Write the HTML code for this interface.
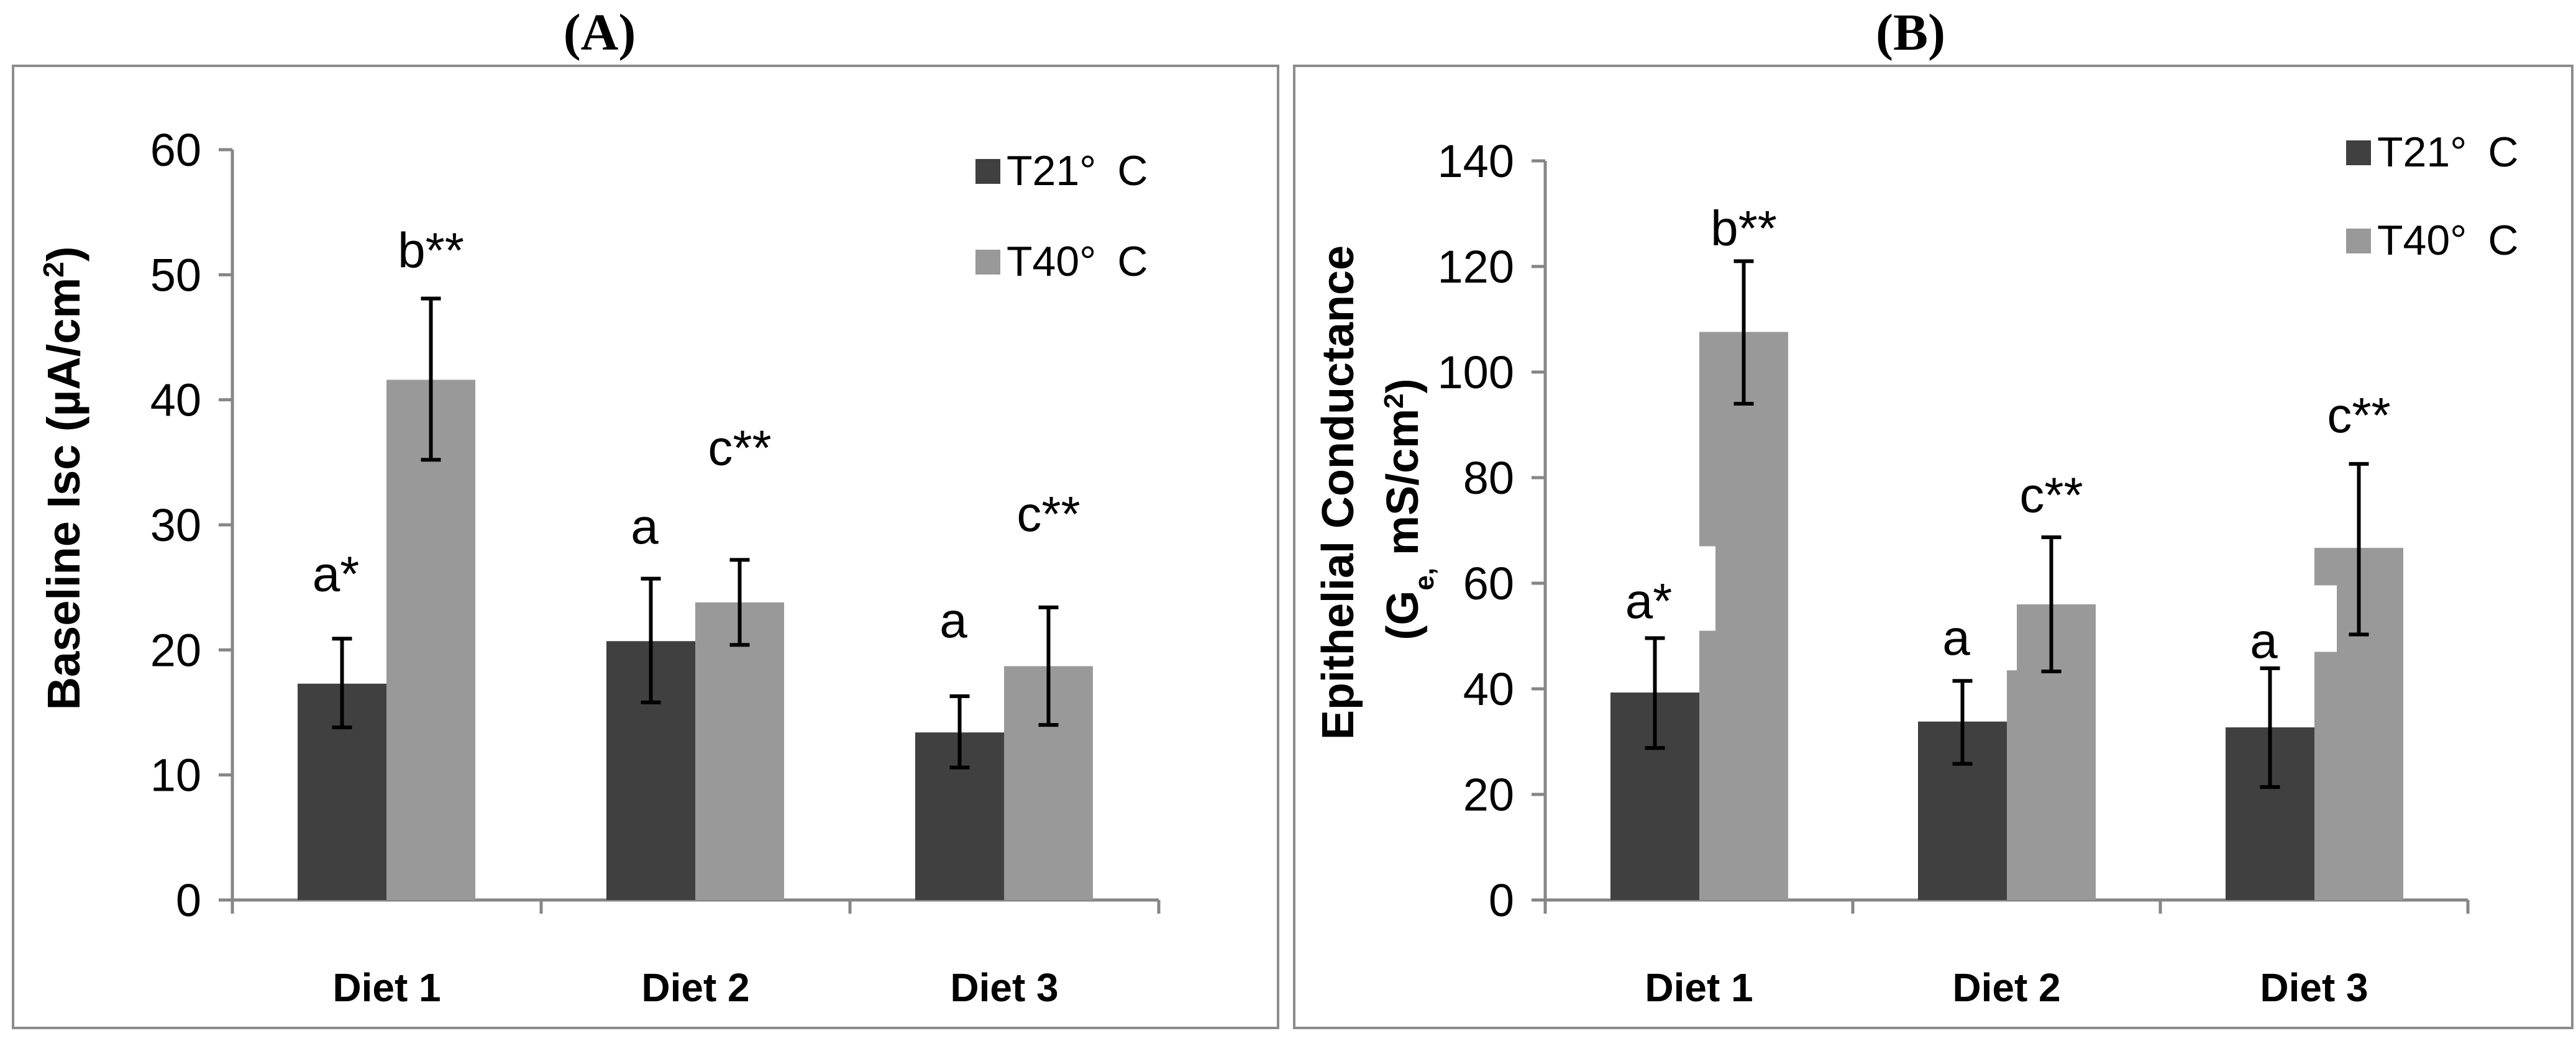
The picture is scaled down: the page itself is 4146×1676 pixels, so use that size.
<!DOCTYPE html>
<html><head><meta charset="utf-8"><style>
html,body{margin:0;padding:0;background:#fff;}
svg{display:block;}
text{font-family:"Liberation Sans",sans-serif;}
text.serif{font-family:"Liberation Serif",serif;}
</style></head><body>
<svg id="chart" width="4146" height="1676" xmlns="http://www.w3.org/2000/svg"></svg>
<script>
const categories = ["Diet 1","Diet 2","Diet 3"];
const seriesNames = ["T21° C","T40° C"];
const aT21 = [17.3, 20.7, 13.4];
const aT40 = [41.6, 23.8, 18.7];
const aT21Lo = [13.8, 15.8, 10.6];
const aT21Hi = [20.9, 25.7, 16.3];
const aT40Lo = [35.2, 20.4, 14.0];
const aT40Hi = [48.1, 27.2, 23.4];
const aT21Label = ["a*","a","a"];
const aT40Label = ["b**","c**","c**"];
const aT21LabelY = [24.7, 28.5, 21.0];
const aT40LabelY = [50.6, 34.8, 29.5];
const aTicks = [0,10,20,30,40,50,60];
const bT21 = [39.3, 33.8, 32.7];
const bT40 = [107.6, 56.0, 66.7];
const bT21Lo = [28.8, 25.8, 21.4];
const bT21Hi = [49.6, 41.5, 43.9];
const bT40Lo = [94.0, 43.3, 50.3];
const bT40Hi = [121.0, 68.7, 82.6];
const bT21Label = ["a*","a","a"];
const bT40Label = ["b**","c**","c**"];
const bT21LabelY = [53.4, 46.5, 45.9];
const bT40LabelY = [124, 73.5, 88.6];
const bTicks = [0,20,40,60,80,100,120,140];
const bNotchLo = [51, 43.5, 47];
const bNotchHi = [67, 56, 59.6];

const NS = "http://www.w3.org/2000/svg";
const svg = document.getElementById("chart");
function mk(tag, attrs, parent){
  const e = document.createElementNS(NS, tag);
  for (const k in attrs) e.setAttribute(k, attrs[k]);
  (parent||svg).appendChild(e);
  return e;
}

function panel(cfg){
  const g = mk("g", {});
  
  
  const box = mk("rect", {x:cfg.boxX, y:106, width:cfg.boxW, height:1549, fill:"none", stroke:"#8c8c8c", "stroke-width":4}, g);
  
  
  const t = mk("text", {x:cfg.titleX, y:80, "text-anchor":"middle", "font-size":84, "font-weight":"bold", "class":"serif"}, g);
  t.textContent = cfg.title;
  
  
  const y0 = 1449, yTop = cfg.yTopPx, maxV = cfg.max;
  const yS = v => y0 - (v/maxV)*(y0-yTop);
  const catW = cfg.catW;
  const xCat = i => cfg.axisX + i*catW;
  const ya = mk("line", {x1:cfg.axisX, y1:yTop, x2:cfg.axisX, y2:y0+22, stroke:"#868686", "stroke-width":5}, g);
  
  
  cfg.ticks.forEach(v => {
    const tk = mk("line", {x1:cfg.axisX-22, y1:yS(v), x2:cfg.axisX, y2:yS(v), stroke:"#868686", "stroke-width":5}, g);
    
    
    const tl = mk("text", {x:cfg.axisX-50, y:yS(v)+26, "text-anchor":"end", "font-size":74}, g);
    tl.textContent = v;
    
    
  });
  const xa = mk("line", {x1:cfg.axisX-22, y1:y0, x2:xCat(3), y2:y0, stroke:"#868686", "stroke-width":5}, g);
  
  
  for (let i=0;i<=3;i++){
    const tk = mk("line", {x1:xCat(i), y1:y0, x2:xCat(i), y2:y0+22, stroke:"#868686", "stroke-width":5}, g);
    
    
  }
  const bw = 143, off = 105;
  categories.forEach((c,i) => {
    const xd = xCat(i)+off, xl = xd+bw;
    const b1 = mk("rect", {x:xd, y:yS(cfg.d[i]), width:bw, height:y0-yS(cfg.d[i]), fill:"#404040"}, g);
    
    
    const b2 = mk("rect", {x:xl, y:yS(cfg.l[i]), width:bw, height:y0-yS(cfg.l[i]), fill:"#999999"}, g);
    
    
    if (cfg.notchLo){
      const n = mk("rect", {x:xl, y:yS(cfg.notchHi[i]), width:cfg.notchW[i], height:yS(cfg.notchLo[i])-yS(cfg.notchHi[i]), fill:"#ffffff"}, g);
      
      
    }
    [[xd+bw/2, cfg.dLo[i], cfg.dHi[i]], [xl+bw/2, cfg.lLo[i], cfg.lHi[i]]].forEach(([cx,lo,hi]) => {
      const eb = mk("path", {d:`M${cx},${yS(lo)}V${yS(hi)}M${cx-16},${yS(lo)}H${cx+16}M${cx-16},${yS(hi)}H${cx+16}`, stroke:"#000", "stroke-width":6, fill:"none"}, g);
      
      
    });
    const a1 = mk("text", {x:xd+bw/2-10, y:yS(cfg.dLY[i]), "text-anchor":"middle", "font-size":80}, g);
    a1.textContent = cfg.dLab[i];
    
    
    const a2 = mk("text", {x:xl+bw/2, y:yS(cfg.lLY[i]), "text-anchor":"middle", "font-size":80}, g);
    a2.textContent = cfg.lLab[i];
    
    
    const cl = mk("text", {x:xCat(i)+catW/2, y:1612, "text-anchor":"middle", "font-size":64, "font-weight":"bold"}, g);
    cl.textContent = c;
    
    
  });
  [["#404040",cfg.legY[0]],["#999999",cfg.legY[1]]].forEach(([col,ly],k) => {
    const sw = mk("rect", {x:cfg.legX, y:ly, width:40, height:40, fill:col}, g);
    
    
    const lt = mk("text", {x:cfg.legX+50, y:ly+42, "font-size":68}, g);
    lt.textContent = seriesNames[k].replace("° ", "°\u2002");
    
    
  });
  cfg.yTitle.forEach((line,k) => {
    const tx = cfg.yTitleX[k], ty = cfg.yTitleY[k];
    const yt = mk("text", {x:tx, y:ty, transform:`rotate(-90 ${tx} ${ty})`, "text-anchor":"middle", "font-size":cfg.yTitleSize, "font-weight":"bold"}, g);
    yt.innerHTML = line;
    
    
  });
}

panel({name:"panel-a", boxX:21, boxW:2036, title:"(A)", titleX:965, axisX:374, catW:497,
  yTopPx:241, max:60, ticks:aTicks, d:aT21, l:aT40, dLo:aT21Lo, dHi:aT21Hi, lLo:aT40Lo, lHi:aT40Hi,
  dLab:aT21Label, lLab:aT40Label, dLY:aT21LabelY, lLY:aT40LabelY,
  legX:1570, legY:[256,402], yTitleSize:74,
  yTitle:['Baseline Isc (µA/cm<tspan baseline-shift="super" font-size="46">2</tspan>)'], yTitleX:[128], yTitleY:[770]});

panel({name:"panel-b", boxX:2083, boxW:2057, title:"(B)", titleX:3075, axisX:2487, catW:495,
  yTopPx:259, max:140, ticks:bTicks, d:bT21, l:bT40, dLo:bT21Lo, dHi:bT21Hi, lLo:bT40Lo, lHi:bT40Hi,
  dLab:bT21Label, lLab:bT40Label, dLY:bT21LabelY, lLY:bT40LabelY,
  notchLo:bNotchLo, notchHi:bNotchHi, notchW:[26,16,36],
  legX:3776, legY:[226,368], yTitleSize:72,
  yTitle:['Epithelial  Conductance', '(G<tspan baseline-shift="sub" font-size="44">e,</tspan>  mS/cm<tspan baseline-shift="super" font-size="44">2</tspan>)'],
  yTitleX:[2178, 2282], yTitleY:[793, 820]});
</script>
</body></html>
